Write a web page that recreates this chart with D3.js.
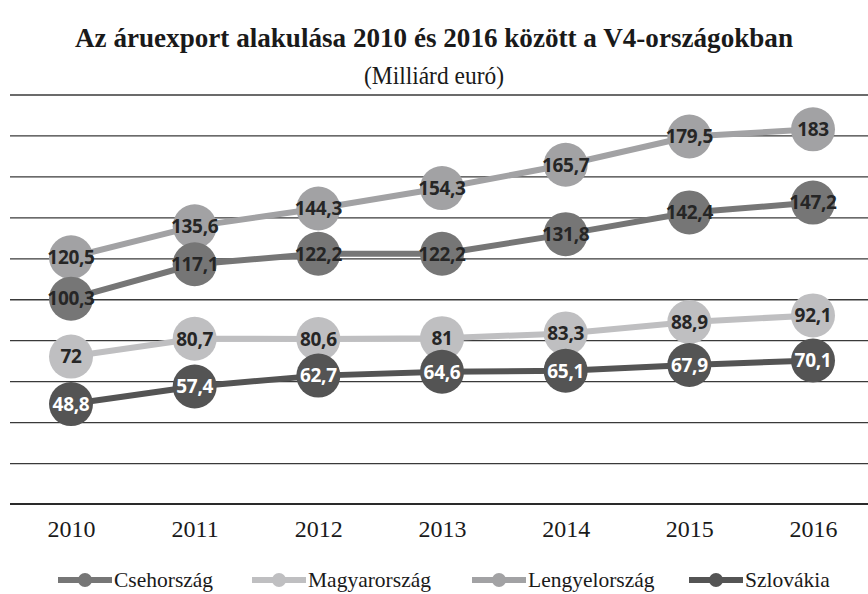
<!DOCTYPE html>
<html>
<head>
<meta charset="utf-8">
<script src="https://cdn.jsdelivr.net/npm/d3@7"></script>
<style>
html, body { margin: 0; padding: 0; background: #ffffff; }
svg { display: block; }
</style>
</head>
<body>
<svg id="chart" width="868" height="594"></svg>
<script>
const years = ["2010", "2011", "2012", "2013", "2014", "2015", "2016"];
const seriesNames = ["Csehország", "Magyarország", "Lengyelország", "Szlovákia"];
const cseh = [100.3, 117.1, 122.2, 122.2, 131.8, 142.4, 147.2];
const magyar = [72, 80.7, 80.6, 81, 83.3, 88.9, 92.1];
const lengyel = [120.5, 135.6, 144.3, 154.3, 165.7, 179.5, 183];
const szlovak = [48.8, 57.4, 62.7, 64.6, 65.1, 67.9, 70.1];
const yTicks = [0, 20, 40, 60, 80, 100, 120, 140, 160, 180, 200];
const titleText = "Az áruexport alakulása 2010 és 2016 között a V4-országokban";
const subtitleText = "(Milliárd euró)";

const colors = {
  "Csehország": "#767676",
  "Magyarország": "#bfbfc1",
  "Lengyelország": "#a2a2a4",
  "Szlovákia": "#545454"
};
const labelColors = {
  "Csehország": "#262626",
  "Magyarország": "#262626",
  "Lengyelország": "#262626",
  "Szlovákia": "#ffffff"
};

const series = [
  { name: "Csehország", values: cseh },
  { name: "Magyarország", values: magyar },
  { name: "Lengyelország", values: lengyel },
  { name: "Szlovákia", values: szlovak }
];
// drawing order (later on top)
const drawOrder = ["Lengyelország", "Magyarország", "Csehország", "Szlovákia"];

const svg = d3.select("#chart");
const x = d3.scalePoint().domain(years).range([71, 813]);
const y = d3.scaleLinear().domain([0, 200]).range([504, 94.5]);

// title
svg.append("text")
  .attr("x", 434).attr("y", 47)
  .attr("text-anchor", "middle")
  .attr("font-family", "'Liberation Serif', serif")
  .attr("font-weight", "bold")
  .attr("font-size", 27)
  .attr("fill", "#1a1a1a")
  .attr("textLength", 718)
  .attr("lengthAdjust", "spacingAndGlyphs")
  .text(titleText);

svg.append("text")
  .attr("x", 434).attr("y", 84)
  .attr("text-anchor", "middle")
  .attr("font-family", "'Liberation Serif', serif")
  .attr("font-size", 25)
  .attr("fill", "#1a1a1a")
  .attr("textLength", 140)
  .attr("lengthAdjust", "spacingAndGlyphs")
  .text(subtitleText);

// gridlines
const grid = svg.append("g").attr("class", "grid")
  .attr("transform", "translate(10,0)")
  .call(d3.axisLeft(y).tickValues(yTicks.filter(d => d > 0)).tickSize(-870).tickFormat(""));
grid.select(".domain").remove();
grid.selectAll(".tick line").attr("stroke", "#3a3a3a").attr("stroke-width", 1.3);

// x axis
const xAxis = svg.append("g")
  .attr("transform", `translate(0,${y(0)})`)
  .call(d3.axisBottom(x).tickSize(0).tickPadding(16));
xAxis.select(".domain").remove();
xAxis.append("line").attr("x1", 10).attr("x2", 868).attr("y1", 0).attr("y2", 0)
  .attr("stroke", "#2a2a2a").attr("stroke-width", 2);
xAxis.selectAll(".tick text")
  .attr("font-family", "'Liberation Serif', serif")
  .attr("font-size", 24)
  .attr("fill", "#1a1a1a");

const line = d3.line().x((d, i) => x(years[i])).y(d => y(d));
const ordered = drawOrder.map(n => series.find(s => s.name === n));

// lines
svg.append("g").selectAll("path").data(ordered).join("path")
  .attr("d", s => line(s.values))
  .attr("fill", "none")
  .attr("stroke", s => colors[s.name])
  .attr("stroke-width", 6);

// markers
ordered.forEach(s => {
  svg.append("g").selectAll("circle").data(s.values).join("circle")
    .attr("cx", (d, i) => x(years[i]))
    .attr("cy", d => y(d))
    .attr("r", 22)
    .attr("fill", colors[s.name]);
});

// labels
const fmt = v => String(v).replace(".", ",");
ordered.forEach(s => {
  svg.append("g").selectAll("text").data(s.values).join("text")
    .attr("x", (d, i) => x(years[i]))
    .attr("y", d => y(d))
    .attr("dy", "0.36em")
    .attr("text-anchor", "middle")
    .attr("font-family", "'Open Sans', sans-serif")
    .attr("font-weight", "bold")
    .attr("font-size", 19)
    .attr("letter-spacing", -0.3)
    .attr("fill", labelColors[s.name])
    .text(d => fmt(d));
});

// legend
const legendX = [58, 252, 472, 689];
const lg = svg.append("g").attr("transform", "translate(0,580)");
series.forEach((s, i) => {
  const g = lg.append("g").attr("transform", `translate(${legendX[i]},0)`);
  g.append("line").attr("x1", 0).attr("x2", 54).attr("y1", 0).attr("y2", 0)
    .attr("stroke", colors[s.name]).attr("stroke-width", 6);
  g.append("circle").attr("cx", 27).attr("cy", 0).attr("r", 7).attr("fill", colors[s.name]);
  g.append("text").attr("x", 56).attr("y", 7)
    .attr("font-family", "'Liberation Serif', serif")
    .attr("font-size", 21.5)
    .attr("fill", "#1a1a1a")
    .text(s.name);
});
</script>
</body>
</html>
